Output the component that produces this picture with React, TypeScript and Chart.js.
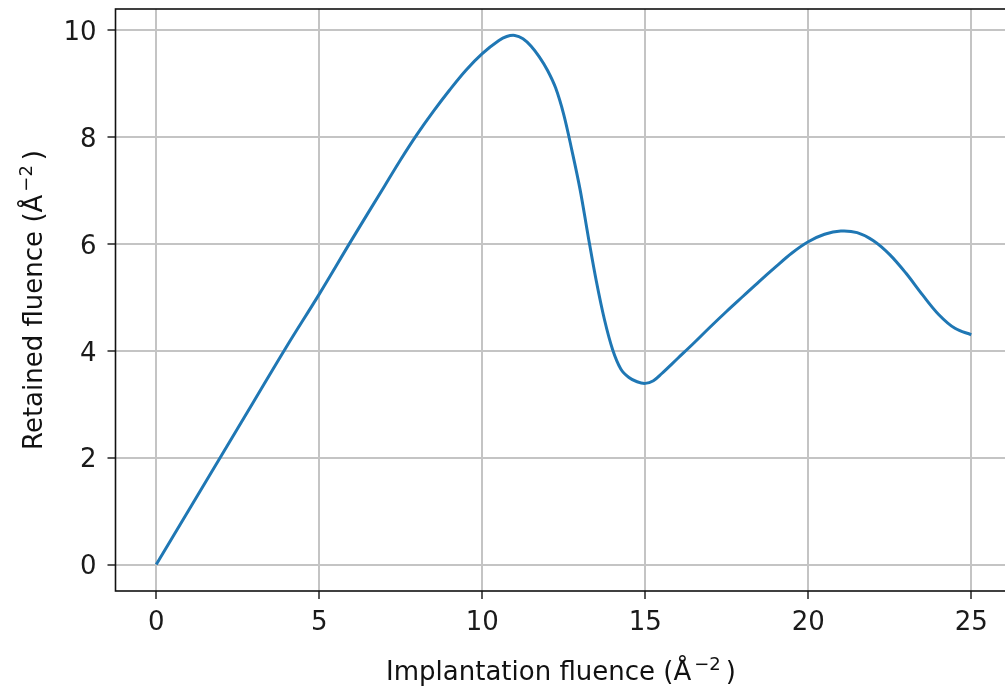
import React, { useEffect, useRef } from "react";
import { Chart, registerables } from "chart.js";

Chart.register(...registerables);

// ---- data ----
const fluenceX = [
  0, 1, 2, 3, 4, 5, 6, 7, 7.5, 8, 8.5, 9, 9.5, 10, 10.5, 10.75, 11, 11.25,
  11.5, 11.75, 12, 12.25, 12.5, 12.75, 13, 13.25, 13.5, 13.75, 14, 14.25, 14.5,
  14.75, 15, 15.25, 15.5, 16, 16.5, 17, 17.5, 18, 18.5, 19, 19.5, 20, 20.5, 21,
  21.5, 22, 22.5, 23, 23.5, 24, 24.5, 25,
];
const retainedY = [
  0, 1.02, 2.04, 3.06, 4.08, 5.06, 6.08, 7.08, 7.58, 8.05, 8.48, 8.88, 9.25,
  9.56, 9.8, 9.88, 9.9, 9.84, 9.7, 9.5, 9.25, 8.92, 8.42, 7.75, 7.02, 6.14,
  5.3, 4.58, 4.02, 3.66, 3.5, 3.42, 3.39, 3.44, 3.57, 3.86, 4.15, 4.45, 4.74,
  5.02, 5.3, 5.57, 5.83, 6.04, 6.18, 6.24, 6.21, 6.06, 5.8, 5.45, 5.05, 4.68,
  4.42, 4.3,
];
const xTickValues = [0, 5, 10, 15, 20, 25];
const yTickValues = [0, 2, 4, 6, 8, 10];
const xTitleParts = ["Implantation fluence (", "Å", "−2", ")"];
const yTitleParts = ["Retained fluence (", "Å", "−2", ")"];

const FONT = "'DejaVu Sans', sans-serif";
const FS = 26;

function drawTitle(ctx: CanvasRenderingContext2D, parts: string[], cx: number, baseY: number) {
  const mainFont = `${FS}px ${FONT}`;
  const supFont = `${Math.round(FS * 0.7)}px ${FONT}`;
  ctx.font = mainFont;
  const w0 = ctx.measureText(parts[0]).width;
  const w1 = ctx.measureText(parts[1]).width;
  const w3 = ctx.measureText(parts[3]).width;
  ctx.font = supFont;
  const w2 = ctx.measureText(parts[2]).width;
  const gapA = 3;
  const gapB = 5;
  const total = w0 + w1 + gapA + w2 + gapB + w3;
  let x = cx - total / 2;
  ctx.fillStyle = "#111";
  ctx.textBaseline = "alphabetic";
  ctx.textAlign = "left";
  ctx.font = mainFont;
  ctx.fillText(parts[0], x, baseY);
  x += w0;
  ctx.fillText(parts[1], x, baseY);
  x += w1 + gapA;
  ctx.font = supFont;
  ctx.fillText(parts[2], x, baseY - 10);
  x += w2 + gapB;
  ctx.font = mainFont;
  ctx.fillText(parts[3], x, baseY);
}

const framePlugin = {
  id: "frameAndTitles",
  afterDatasetsDraw(chart: any) {
    const { ctx, chartArea } = chart;
    ctx.save();
    ctx.strokeStyle = "#111";
    ctx.lineWidth = 1.6;
    ctx.strokeRect(chartArea.left, chartArea.top, chartArea.right - chartArea.left, chartArea.bottom - chartArea.top);
    ctx.restore();
  },
  afterDraw(chart: any) {
    const { ctx, chartArea } = chart;
    ctx.save();
    drawTitle(ctx, xTitleParts, 561, 680);
    ctx.translate(42, (chartArea.top + chartArea.bottom) / 2);
    ctx.rotate(-Math.PI / 2);
    drawTitle(ctx, yTitleParts, 0, 0);
    ctx.restore();
  },
};

export default function App() {
  const ref = useRef<HTMLCanvasElement | null>(null);
  useEffect(() => {
    if (!ref.current) return;
    const chart = new Chart(ref.current, {
      type: "line",
      data: {
        datasets: [
          {
            data: fluenceX.map((x, i) => ({ x, y: retainedY[i] })),
            borderColor: "#1f77b4",
            borderWidth: 3,
            pointRadius: 0,
            fill: false,
            tension: 0.35,
          },
        ],
      },
      options: {
        animation: false,
        responsive: false,
        devicePixelRatio: 1,
        layout: { padding: { top: 9, left: 0, right: 0, bottom: 0 } },
        plugins: { legend: { display: false }, tooltip: { enabled: false } },
        scales: {
          x: {
            type: "linear",
            min: -1.25,
            max: 26.25,
            afterBuildTicks: (s: any) => {
              s.ticks = xTickValues.map((v) => ({ value: v }));
            },
            afterFit: (s: any) => {
              s.height = 97;
              s.paddingLeft = 0;
              s.paddingRight = 0;
            },
            border: { display: false },
            grid: { color: "#c4c4c4", lineWidth: 2, tickColor: "#222", tickLength: 8, tickWidth: 1.5 },
            ticks: {
              font: { family: FONT, size: FS },
              color: "#1a1a1a",
              padding: 9,
              maxRotation: 0,
              autoSkip: false,
            },
          },
          y: {
            type: "linear",
            min: -0.495,
            max: 10.395,
            afterBuildTicks: (s: any) => {
              s.ticks = yTickValues.map((v) => ({ value: v }));
            },
            afterFit: (s: any) => {
              s.width = 115.5;
              s.paddingTop = 0;
              s.paddingBottom = 0;
            },
            border: { display: false },
            grid: { color: "#c4c4c4", lineWidth: 2, tickColor: "#222", tickLength: 8, tickWidth: 1.5 },
            ticks: {
              font: { family: FONT, size: FS },
              color: "#1a1a1a",
              padding: 11,
              labelOffset: 3,
              autoSkip: false,
            },
          },
        },
      },
      plugins: [framePlugin],
    });
    return () => chart.destroy();
  }, []);
  return (
    <div style={{ position: "absolute", left: 0, top: 0, width: 1005, height: 688, overflow: "hidden", background: "#fff" }}>
      <canvas ref={ref} width={1012} height={688} style={{ width: 1012, height: 688, display: "block" }} />
    </div>
  );
}
